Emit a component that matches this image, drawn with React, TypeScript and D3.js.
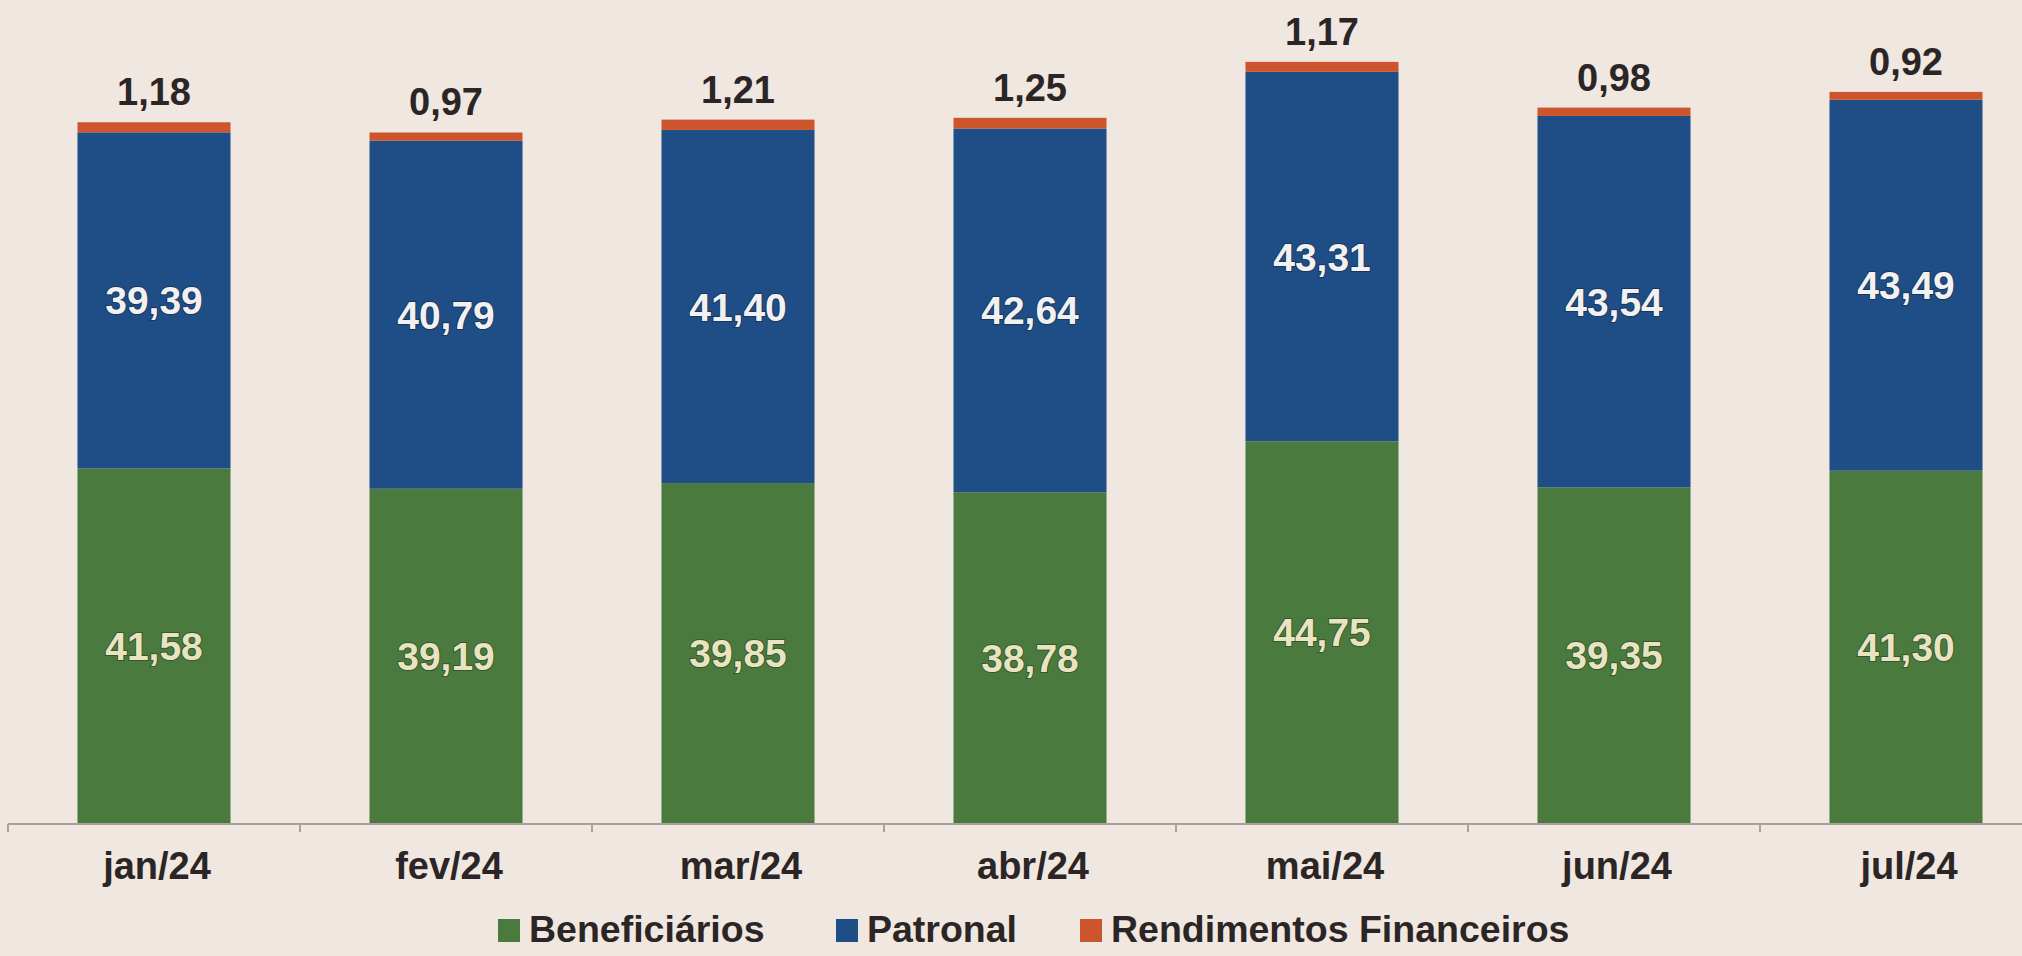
import React from "react";
import * as d3 from "d3";

const months = ["jan/24", "fev/24", "mar/24", "abr/24", "mai/24", "jun/24", "jul/24"];
const beneficiarios = [41.58, 39.19, 39.85, 38.78, 44.75, 39.35, 41.3];
const patronal = [39.39, 40.79, 41.4, 42.64, 43.31, 43.54, 43.49];
const rendimentos = [1.18, 0.97, 1.21, 1.25, 1.17, 0.98, 0.92];
const seriesNames = ["Beneficiários", "Patronal", "Rendimentos Financeiros"];

const W = 2022;
const H = 956;
const BASE = 823;
const colors = ["#4a7a3e", "#1f4e87", "#cd552d"];
const fmt = (v: number) => v.toFixed(2).replace(".", ",");
const FONT = "'Liberation Sans', Arial, sans-serif";

export default function App() {
  const x = d3.scaleBand<string>().domain(months).range([8, 2052]).paddingInner(0.476).paddingOuter(0.238);
  const y = d3.scaleLinear().domain([0, 90]).range([BASE, BASE - 90 * 8.53]);

  const rows = months.map((m, i) => ({
    month: m,
    b: beneficiarios[i],
    p: patronal[i],
    r: rendimentos[i],
  }));
  const stack = d3.stack<any>().keys(["b", "p", "r"])(rows);

  const boundaries = d3.range(months.length + 1).map((i) => 8 + i * x.step());

  const legendX = [498, 836, 1080];

  return (
    <div style={{ position: "absolute", left: 0, top: 0 }}>
      <svg width={W} height={H} style={{ display: "block" }}>
        <rect x={0} y={0} width={W} height={H} fill="#efe7e0" />
        {stack.map((layer, li) =>
          layer.map((d, i) => (
            <rect
              key={`${li}-${i}`}
              x={x(months[i])}
              y={y(d[1])}
              width={x.bandwidth()}
              height={y(d[0]) - y(d[1])}
              fill={colors[li]}
            />
          ))
        )}
        {/* axis */}
        <line x1={8} x2={W} y1={BASE + 1} y2={BASE + 1} stroke="#aaa39d" strokeWidth={2} />
        {boundaries.map((bx, i) => (
          <line key={i} x1={bx} x2={bx} y1={BASE + 1} y2={BASE + 9} stroke="#aaa39d" strokeWidth={2} />
        ))}
        {months.map((m) => (
          <text
            key={m}
            x={(x(m) as number) + x.bandwidth() / 2 + 3}
            y={879}
            textAnchor="middle"
            fontFamily={FONT}
            fontWeight="bold"
            fontSize={38}
            fill="#2b2625"
          >
            {m}
          </text>
        ))}
        {/* inner labels */}
        {stack[0].map((d, i) => (
          <text
            key={`gb${i}`}
            x={(x(months[i]) as number) + x.bandwidth() / 2}
            y={(y(d[0]) + y(d[1])) / 2}
            dy="0.36em"
            textAnchor="middle"
            fontFamily={FONT}
            fontWeight="bold"
            fontSize={39}
            fill="#e8e4c2"
            stroke="rgba(30,40,20,0.45)"
            strokeWidth={2}
            paintOrder="stroke"
          >
            {fmt(beneficiarios[i])}
          </text>
        ))}
        {stack[1].map((d, i) => (
          <text
            key={`pb${i}`}
            x={(x(months[i]) as number) + x.bandwidth() / 2}
            y={(y(d[0]) + y(d[1])) / 2}
            dy="0.36em"
            textAnchor="middle"
            fontFamily={FONT}
            fontWeight="bold"
            fontSize={39}
            fill="#f1f1f1"
            stroke="rgba(20,20,40,0.45)"
            strokeWidth={2}
            paintOrder="stroke"
          >
            {fmt(patronal[i])}
          </text>
        ))}
        {stack[2].map((d, i) => (
          <text
            key={`rb${i}`}
            x={(x(months[i]) as number) + x.bandwidth() / 2}
            y={y(d[1]) - 17}
            textAnchor="middle"
            fontFamily={FONT}
            fontWeight="bold"
            fontSize={38}
            fill="#2b2625"
          >
            {fmt(rendimentos[i])}
          </text>
        ))}
        {/* legend */}
        {seriesNames.map((s, i) => (
          <g key={s} transform={`translate(${legendX[i]},0)`}>
            <rect x={0} y={919} width={22} height={23} fill={colors[i]} />
            <text x={31} y={942} fontFamily={FONT} fontWeight="bold" fontSize={37.5} fill="#2b2625">
              {s}
            </text>
          </g>
        ))}
      </svg>
    </div>
  );
}
